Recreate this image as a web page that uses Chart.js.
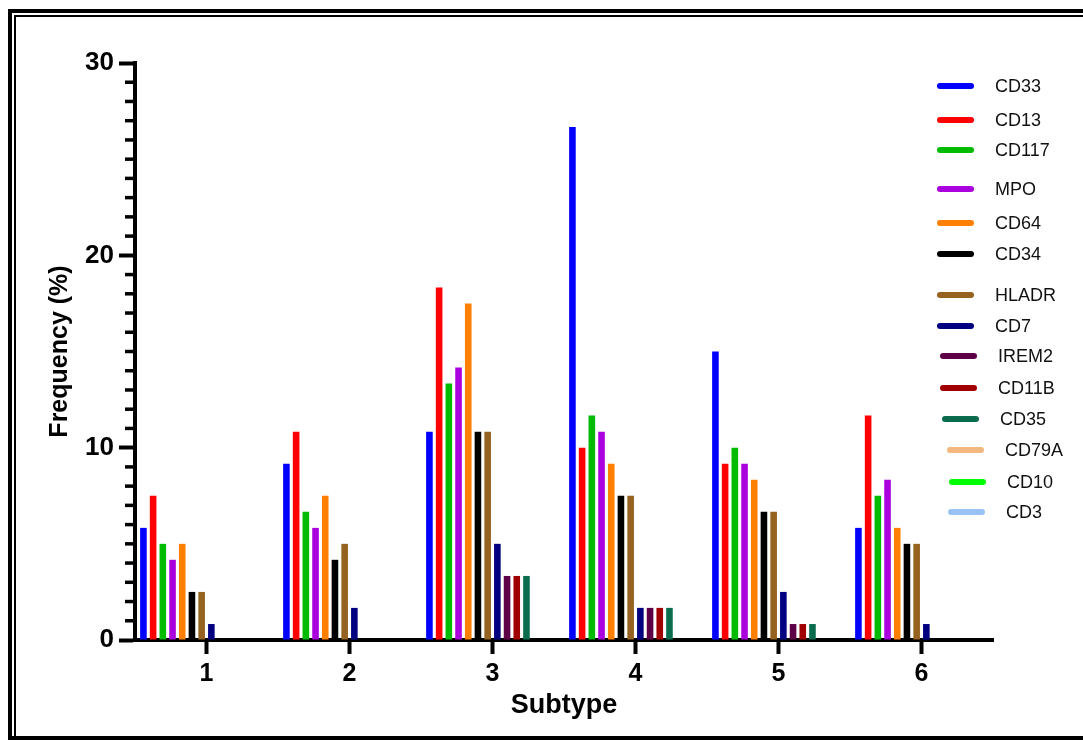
<!DOCTYPE html>
<html>
<head>
<meta charset="utf-8">
<script src="https://cdn.jsdelivr.net/npm/chart.js@4"></script>
<style>
    body { margin: 0; background: #fff; }
    #wrap { position: relative; width: 1083px; height: 740px; overflow: hidden; background: #fff; }
    #chart { position: absolute; left: 0; top: 0; }
    .frame-out { position: absolute; left: 8px; top: 9px; width: 1100px; height: 723px; border: 4px solid #000; }
    .frame-in { position: absolute; left: 14px; top: 15px; width: 1100px; height: 760px; border: 2px solid #000; }
    #legend { position: absolute; left: 0; top: 0; font-family: "Liberation Sans", Arial, sans-serif; font-size: 18px; color: #111; }
    .leg-line { position: absolute; width: 37px; height: 6px; border-radius: 3px; }
    .leg-text { position: absolute; line-height: 20px; }
</style>
</head>
<body>
<div id="wrap">
    <div class="frame-out"></div>
    <div class="frame-in"></div>
    <canvas id="chart" width="1083" height="740"></canvas>
    <div id="legend"></div>
</div>
<script>
'use strict'

// subtypes on the x axis
var subtypes = ["1", "2", "3", "4", "5", "6"];

// frequency (%) per marker, one value per subtype
var markers = ["CD33", "CD13", "CD117", "MPO", "CD64", "CD34", "HLADR", "CD7", "IREM2", "CD11B", "CD35", "CD79A", "CD10", "CD3"];
var cd33  = [5.83, 9.17, 10.83, 26.67, 15.0, 5.83];
var cd13  = [7.5, 10.83, 18.33, 10.0, 9.17, 11.67];
var cd117 = [5.0, 6.67, 13.33, 11.67, 10.0, 7.5];
var mpo   = [4.17, 5.83, 14.17, 10.83, 9.17, 8.33];
var cd64  = [5.0, 7.5, 17.5, 9.17, 8.33, 5.83];
var cd34  = [2.5, 4.17, 10.83, 7.5, 6.67, 5.0];
var hladr = [2.5, 5.0, 10.83, 7.5, 6.67, 5.0];
var cd7   = [0.83, 1.67, 5.0, 1.67, 2.5, 0.83];
var irem2 = [0, 0, 3.33, 1.67, 0.83, 0];
var cd11b = [0, 0, 3.33, 1.67, 0.83, 0];
var cd35  = [0, 0, 3.33, 1.67, 0.83, 0];
var cd79a = [0, 0, 0, 0, 0, 0];
var cd10  = [0, 0, 0, 0, 0, 0];
var cd3   = [0, 0, 0, 0, 0, 0];

// y axis tick labels
var yTicks = [0, 10, 20, 30];

var colors = ["#0000ff", "#ff0000", "#00bb00", "#aa00dd", "#ff8000", "#000000", "#956220",
              "#000080", "#5e0048", "#a00000", "#0a6c4c", "#f2b880", "#00ff00", "#99c2f6"];
var series = [cd33, cd13, cd117, mpo, cd64, cd34, hladr, cd7, irem2, cd11b, cd35, cd79a, cd10, cd3];

// legend placement (picture layout, not data)
var legendY = [86, 120, 150, 189, 223, 254, 295, 326, 356, 388, 419, 450, 482, 512];
var legendShift = [0, 0, 0, 0, 0, 0, 0, 0, 3, 3, 5, 10, 12, 11];

var fontFamily = '"Liberation Sans", Arial, sans-serif';

var datasets = markers.map(function (name, i) {
    return {
        label: name,
        data: series[i],
        backgroundColor: colors[i],
        borderWidth: 0,
        categoryPercentage: 0.95,
        barPercentage: 0.68
    };
});

// small ticks every 1 % on the y axis
var minorTicks = {
    id: 'minorTicks',
    afterDraw: function (chart) {
        var ctx = chart.ctx;
        var y = chart.scales.y;
        var left = chart.chartArea.left;
        ctx.save();
        ctx.strokeStyle = '#000';
        ctx.lineWidth = 3.5;
        for (var v = 1; v < 30; v++) {
            if (v % 10 === 0) continue;
            var py = y.getPixelForValue(v);
            ctx.beginPath();
            ctx.moveTo(left - 10, py);
            ctx.lineTo(left, py);
            ctx.stroke();
        }
        ctx.restore();
    }
};

var ctx = document.getElementById('chart').getContext('2d');
var chart = new Chart(ctx, {
    type: 'bar',
    data: {
        labels: subtypes,
        datasets: datasets
    },
    plugins: [minorTicks],
    options: {
        responsive: false,
        animation: false,
        layout: {
            padding: { left: 40, top: 63, right: 90, bottom: 16 }
        },
        plugins: {
            legend: { display: false },
            tooltip: { enabled: false }
        },
        scales: {
            x: {
                afterFit: function (scale) { scale.height = 84; },
                grid: {
                    offset: false,
                    drawOnChartArea: false,
                    color: '#000',
                    tickLength: 14,
                    tickWidth: 4
                },
                border: { color: '#000', width: 4 },
                ticks: {
                    color: '#000',
                    padding: 5,
                    font: { family: fontFamily, size: 25, weight: 'bold' }
                },
                title: {
                    display: true,
                    text: 'Subtype',
                    color: '#000',
                    padding: { top: 0, bottom: 2 },
                    font: { family: fontFamily, size: 27, weight: 'bold' }
                }
            },
            y: {
                min: 0,
                max: 30,
                afterFit: function (scale) { scale.width = 95; },
                afterBuildTicks: function (scale) {
                    scale.ticks = yTicks.map(function (v) { return { value: v }; });
                },
                grid: {
                    drawOnChartArea: false,
                    color: '#000',
                    tickLength: 16,
                    tickWidth: 4
                },
                border: { color: '#000', width: 4 },
                ticks: {
                    color: '#000',
                    padding: 5,
                    font: { family: fontFamily, size: 26, weight: 'bold' }
                },
                title: {
                    display: true,
                    text: 'Frequency (%)',
                    color: '#000',
                    padding: { top: 5, bottom: 0 },
                    font: { family: fontFamily, size: 25, weight: 'bold' }
                }
            }
        }
    }
});

// legend on the right, built from the datasets
var legend = document.getElementById('legend');
chart.data.datasets.forEach(function (ds, i) {
    var line = document.createElement('div');
    line.className = 'leg-line';
    line.style.background = ds.backgroundColor;
    line.style.left = (937 + legendShift[i]) + 'px';
    line.style.top = (legendY[i] - 3) + 'px';
    legend.appendChild(line);

    var text = document.createElement('div');
    text.className = 'leg-text';
    text.textContent = ds.label;
    text.style.left = (995 + legendShift[i]) + 'px';
    text.style.top = (legendY[i] - 10) + 'px';
    legend.appendChild(text);
});
</script>
</body>
</html>
